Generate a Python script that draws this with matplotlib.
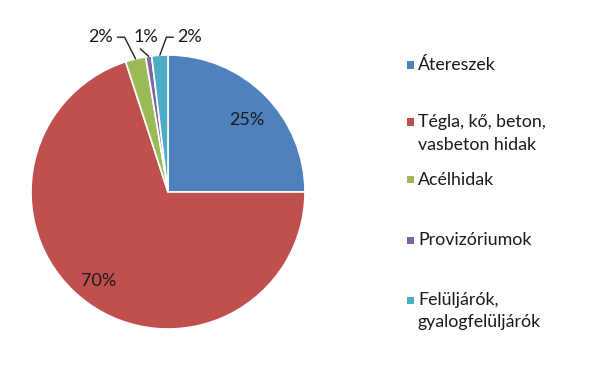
import numpy as np
import matplotlib.pyplot as plt
from matplotlib.patches import Rectangle

labels = ["Átereszek", "Tégla, kő, beton,\nvasbeton hidak", "Acélhidak",
          "Provizóriumok", "Felüljárók,\ngyalogfelüljárók"]
values = [25.0, 70.0, 2.4, 0.7, 1.9]
colors = ["#4F81BD", "#C0504D", "#9BBB59", "#8064A2", "#4BACC6"]

plt.rcParams['font.family'] = ['Lato', 'DejaVu Sans']

W, H = 600, 366
fig = plt.figure(figsize=(W / 100, H / 100), dpi=100)
ax = fig.add_axes([31 / W, 37 / H, 274 / W, 274 / H])

wedges, _ = ax.pie(values, colors=colors, startangle=90, counterclock=False,
                   wedgeprops=dict(edgecolor="white", linewidth=1.2))
ax.set_xlim(-1, 1)
ax.set_ylim(-1, 1)
ax.set_aspect("equal")

# percent labels: inside for big slices, outside with leader lines for small ones
inside_r = [0.78, 0.82, None, None, None]
inside_shift = [-2.7, -2, 0, 0, 0]
outside_txt = [None, None, (-0.49, 1.13), (-0.16, 1.13), (0.16, 1.13)]
outside_style = [None, None,
                 dict(relpos=(1, 0.5), connectionstyle="angle,angleA=0,angleB=117,rad=0"),
                 dict(relpos=(0.1, 0), connectionstyle="arc3"),
                 dict(relpos=(0, 0.5), connectionstyle="angle,angleA=0,angleB=70,rad=0")]
for i, w in enumerate(wedges):
    mid = np.deg2rad((w.theta1 + w.theta2) / 2 + inside_shift[i])
    txt = "%d%%" % round(values[i])
    if inside_r[i] is not None:
        ax.text(inside_r[i] * np.cos(mid), inside_r[i] * np.sin(mid), txt,
                ha="center", va="center", fontsize=13, color="#1a1a1a")
    else:
        ex, ey = np.cos(mid), np.sin(mid)
        tx, ty = outside_txt[i]
        ax.annotate(txt, xy=(ex, ey), xytext=(tx, ty), ha="center", va="center",
                    fontsize=13, color="#1a1a1a", annotation_clip=False,
                    arrowprops=dict(arrowstyle="-", color="#222222", lw=1.0,
                                    shrinkA=1, shrinkB=0, **outside_style[i]))

# legend, laid out by hand (first-line centre of each entry, in pixels from top)
leg_y = [65, 122, 180, 240, 300]
line_gap = 22.5
for lab, c, y in zip(labels, colors, leg_y):
    fig.add_artist(Rectangle(((407) / W, 1 - (y + 3.5) / H), 7 / W, 7 / H,
                             transform=fig.transFigure, facecolor=c,
                             edgecolor="none"))
    for k, line in enumerate(lab.split("\n")):
        fig.text(418 / W, 1 - (y + k * line_gap) / H, line, ha="left",
                 va="center", fontsize=12.8, color="#1a1a1a")

fig.savefig("out.png", dpi=100)
